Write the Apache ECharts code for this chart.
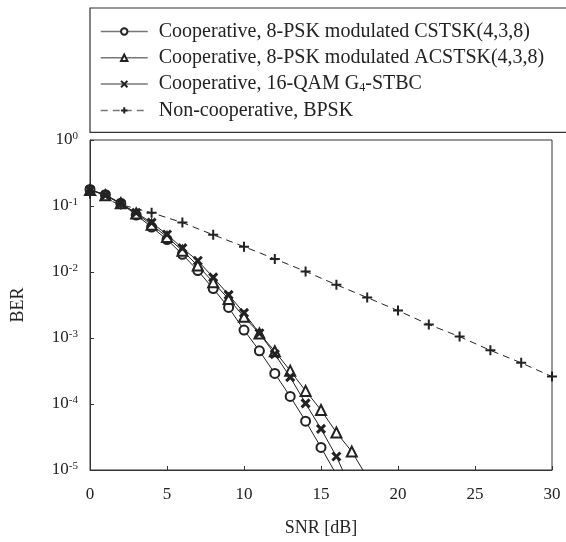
<!DOCTYPE html>
<html><head><meta charset="utf-8">
<script src="https://cdn.jsdelivr.net/npm/echarts@6/dist/echarts.min.js"></script>
<style>html,body{margin:0;padding:0;background:#fff}#c{width:566px;height:542px}</style>
</head><body><div id="c"></div>
<script>
var snrCoop = [0,1,2,3,4,5,6,7,8,9,10,11,12,13,14,15,16,17,18];
var snrNonCoop = [0,2,4,6,8,10,12,14,16,18,20,22,24,26,28,30];
var berCSTSK = [0.178,0.148,0.11,0.073,0.048,0.031,0.0185,0.0105,0.0056,0.0029,0.00132,0.00064,0.00029,0.00013,0.000055,0.000022,0.0000085];
var berACSTSK = [0.175,0.146,0.11,0.077,0.052,0.034,0.021,0.0125,0.007,0.0039,0.0021,0.00117,0.00063,0.00032,0.000158,0.000081,0.000037,0.000019,0.0000078];
var berSTBC = [0.175,0.145,0.108,0.079,0.056,0.037,0.023,0.0148,0.0083,0.0045,0.0024,0.00118,0.00057,0.000255,0.000102,0.000042,0.000016,0.0000049];
var berNonCoop = [0.155,0.105,0.079,0.056,0.0366,0.0242,0.0158,0.0102,0.0064,0.0041,0.0026,0.0016,0.00105,0.00065,0.00042,0.00026];
var seriesNames = ['Cooperative, 8-PSK modulated CSTSK(4,3,8)','Cooperative, 8-PSK modulated ACSTSK(4,3,8)','Cooperative, 16-QAM G{sub|4}-STBC','Non-cooperative, BPSK'];
var xTicks = [0,5,10,15,20,25,30];

function pairs(xs, ys){ return ys.map(function(v,i){ return [xs[i], v]; }); }
var FF = '"Liberation Serif", "Times New Roman", serif';
var INK = '#222';
var chart = echarts.init(document.getElementById('c'));
var base = {type:'line', clip:true, lineStyle:{color:INK, width:1}, itemStyle:{color:INK}, animation:false};
chart.setOption({
  backgroundColor:'#fff',
  textStyle:{fontFamily:FF, color:INK},
  grid:{left:90, right:14, top:140, bottom:70, show:true, borderColor:'#333', borderWidth:1},
  legend:{
    orient:'vertical', left:90, top:8,
    padding:[13.5,90,12,10], itemGap:6.3, itemWidth:47, itemHeight:8,
    borderColor:'#333', borderWidth:1.2, backgroundColor:'#fff',
    lineStyle:{color:'#777', width:1.5},
    textStyle:{fontFamily:FF, fontSize:20, color:INK, padding:[0,0,0,6], lineHeight:20,
      rich:{sub:{fontSize:12, verticalAlign:'bottom', padding:[8,0,0,0], fontFamily:FF, color:INK}}},
    data:seriesNames
  },
  xAxis:{type:'value', min:0, max:30, interval:5,
    name:'SNR [dB]', nameLocation:'middle', nameGap:49,
    nameTextStyle:{fontFamily:FF, fontSize:18, color:INK},
    axisLine:{lineStyle:{color:'#333'}},
    axisTick:{inside:true, length:4, lineStyle:{color:'#333'}},
    axisLabel:{fontFamily:FF, fontSize:17, color:INK, margin:16},
    splitLine:{show:false}},
  yAxis:{type:'log', logBase:10, min:1e-5, max:1,
    name:'BER', nameLocation:'middle', nameGap:63, nameRotate:90,
    nameTextStyle:{fontFamily:FF, fontSize:18, color:INK},
    axisLine:{lineStyle:{color:'#333'}},
    axisTick:{inside:true, length:4, lineStyle:{color:'#333'}},
    minorTick:{show:false},
    splitLine:{show:false},
    axisLabel:{margin:12, formatter:function(v){ var e=Math.round(Math.log10(v)); return '{b|10}{s|'+(e===0?'0':String(e))+'}'; },
      rich:{b:{fontFamily:FF, fontSize:17, color:INK, lineHeight:18}, s:{fontFamily:FF, fontSize:11, color:INK, verticalAlign:'top', lineHeight:11}}}},
  series:[
    Object.assign({}, base, {name:seriesNames[0], data:pairs(snrCoop, berCSTSK), symbol:'emptyCircle', symbolSize:9}),
    Object.assign({}, base, {name:seriesNames[1], data:pairs(snrCoop, berACSTSK), symbol:'emptyTriangle', symbolSize:10}),
    Object.assign({}, base, {name:seriesNames[2], data:pairs(snrCoop, berSTBC), symbol:'path://M0,0L10,10M10,0L0,10', symbolSize:8,
      itemStyle:{color:INK, borderColor:INK, borderWidth:3}}),
    Object.assign({}, base, {name:seriesNames[3], data:pairs(snrNonCoop, berNonCoop), symbol:'path://M5,0L5,10M0,5L10,5', symbolSize:10,
      lineStyle:{color:INK, width:1, type:[7,5]}, itemStyle:{color:INK, borderColor:INK, borderWidth:2}})
  ]
});
</script></body></html>
